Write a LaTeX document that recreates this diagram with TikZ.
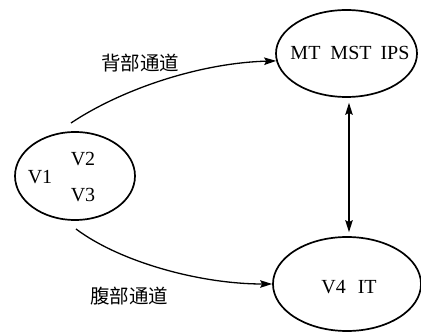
\documentclass[tikz,border=0pt]{standalone}
\usepackage{fontspec}
\setmainfont{Liberation Serif}
\newfontfamily\cjk{Noto Sans CJK SC}
\usetikzlibrary{shapes.geometric,arrows.meta}
\begin{document}
\begin{tikzpicture}[x=1pt,y=-1pt,
  area/.style={draw, ellipse, line width=1.7pt, inner sep=0pt},
  lbl/.style={inner sep=0pt, font=\fontsize{20}{20}\selectfont},
  cjklbl/.style={inner sep=0pt, font=\cjk\fontsize{19.5}{19.5}\selectfont},
  arr/.style={line width=1.3pt, -{Stealth[length=12pt,width=7.5pt,inset=2pt]}},
  dbl/.style={line width=1.3pt, {Stealth[length=12pt,width=7.5pt,inset=2pt]}-{Stealth[length=12pt,width=7.5pt,inset=2pt]}}]
\useasboundingbox (0,0) rectangle (421,336);
\clip (0,0) rectangle (421,336);

% areas
\node[area, minimum width=120pt, minimum height=88pt] (v1) at (75,176) {};
\node[area, minimum width=141pt, minimum height=87pt] (top) at (346.5,53.5) {};
\node[area, minimum width=148pt, minimum height=94pt] (bot) at (347,284) {};

% texts
\node[lbl] (tv1) at (40,177) {V1};
\node[lbl] (tv2) at (83,159) {V2};
\node[lbl] (tv3) at (83,195) {V3};
\node[lbl] (ttop) at (350,53) {MT\hspace{0.5em}MST\hspace{0.45em}IPS};
\node[lbl] (tbot) at (349,287) {V4\hspace{0.6em}IT};

\node[cjklbl] (dorsal) at (140,63) {背部通道};
\node[cjklbl] (ventral) at (129,296) {腹部通道};

% connectors
\coordinate (s1) at (71,123);
\coordinate (s2) at (76,229);
\draw[arr] (s1) .. controls (122,89) and (200,63) .. (top.186);
\draw[arr] (s2) .. controls (120,262) and (200,284) .. (bot.west);
\draw[dbl, shorten <=5pt, shorten >=4pt] ([xshift=2.5pt]top.south) -- ([xshift=2pt]bot.north);
\end{tikzpicture}
\end{document}
